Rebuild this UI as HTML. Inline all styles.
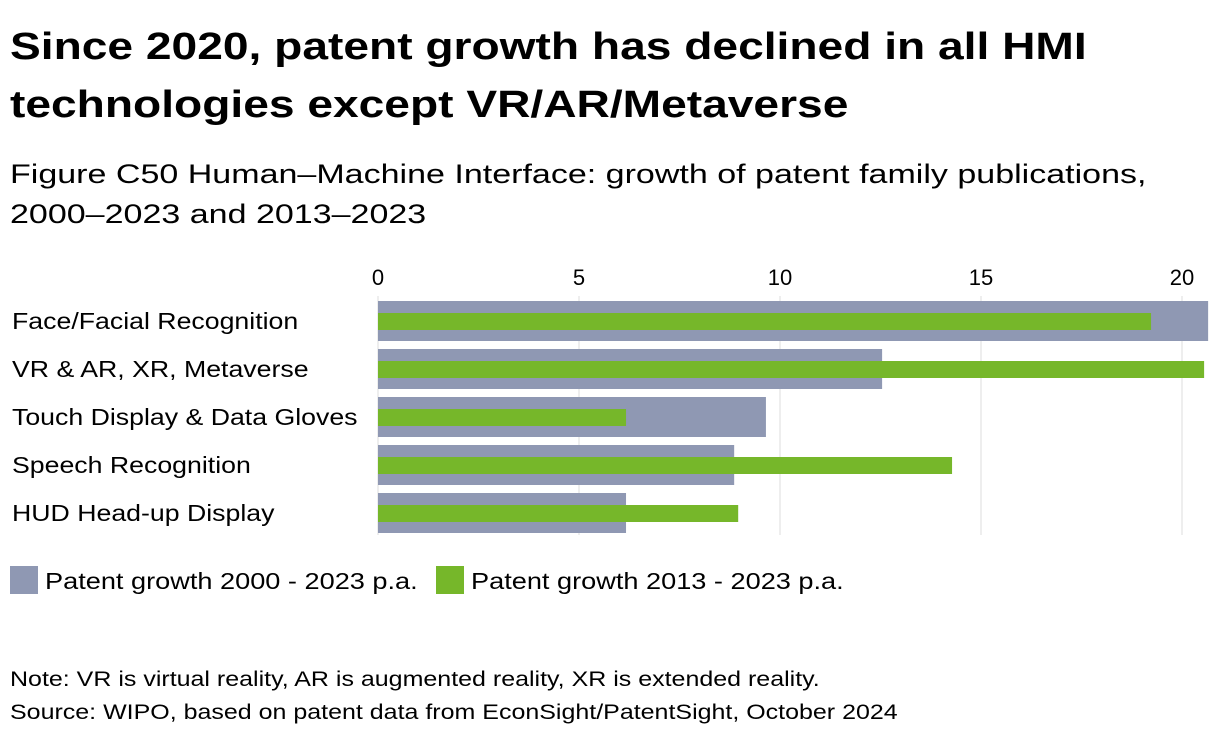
<!DOCTYPE html>
<html><head><meta charset="utf-8"><style>
body{margin:0;width:1220px;height:742px;background:#fff;font-family:"Liberation Sans",sans-serif;color:#000;overflow:hidden;position:relative}
.t{position:absolute;left:10px;white-space:nowrap;transform-origin:0 0}
</style></head><body>
<div class="t" style="top:18px;font-size:38px;font-weight:bold;line-height:58px;transform:scaleX(1.214)">Since 2020, patent growth has declined in all HMI<br>technologies except VR/AR/Metaverse</div>
<div class="t" style="top:154px;font-size:27px;line-height:40px;transform:scaleX(1.26)">Figure C50 Human–Machine Interface: growth of patent family publications,<br>2000–2023 and 2013–2023</div>
<svg id="c" width="1220" height="742" style="position:absolute;left:0;top:0"></svg>
<div class="t" style="top:668px;font-size:21px;transform:scaleX(1.19)">Note: VR is virtual reality, AR is augmented reality, XR is extended reality.</div>
<div class="t" style="top:701px;font-size:21px;transform:scaleX(1.19)">Source: WIPO, based on patent data from EconSight/PatentSight, October 2024</div>
<script>
const categories=["Face/Facial Recognition","VR & AR, XR, Metaverse","Touch Display & Data Gloves","Speech Recognition","HUD Head-up Display"];
const growth2000=[20.65,12.54,9.65,8.86,6.17];
const growth2013=[19.23,20.55,6.17,14.28,8.96];
const ticks=[0,5,10,15,20];
const svg=document.getElementById('c');const NS="http://www.w3.org/2000/svg";
const x=v=>378+v*40.2;const yc=i=>321+i*48;
function mk(t,a,p){const e=document.createElementNS(NS,t);for(const k in a)e.setAttribute(k,a[k]);(p||svg).appendChild(e);return e;}
function stretch(t,f){const w=t.getComputedTextLength();t.setAttribute('textLength',w*f);t.setAttribute('lengthAdjust','spacingAndGlyphs');}
ticks.forEach(v=>{const l=mk('line',{x1:x(v),x2:x(v),y1:296,y2:535,stroke:'#ddd','stroke-width':1});

const t=mk('text',{x:x(v),y:285,'text-anchor':'middle','font-size':22,'font-family':'Liberation Sans'});t.textContent=v;
});
categories.forEach((c,i)=>{
const a=mk('rect',{x:x(0),y:yc(i)-20,width:x(growth2000[i])-x(0),height:40,fill:'#8f98b3'});

const b=mk('rect',{x:x(0),y:yc(i)-8,width:x(growth2013[i])-x(0),height:17,fill:'#76b72a'});

const t=mk('text',{x:12,y:yc(i)+8,'font-size':23,'font-family':'Liberation Sans'});t.textContent=c;stretch(t,1.16);
});
[[10,'#8f98b3','Patent growth 2000 - 2023 p.a.'],[436,'#76b72a','Patent growth 2013 - 2023 p.a.']].forEach(([lx,c,s])=>{
const r=mk('rect',{x:lx,y:566,width:28,height:28,fill:c});
const t=mk('text',{x:lx+35,y:589,'font-size':23,'font-family':'Liberation Sans'});t.textContent=s;stretch(t,1.18);
});
</script>
</body></html>
